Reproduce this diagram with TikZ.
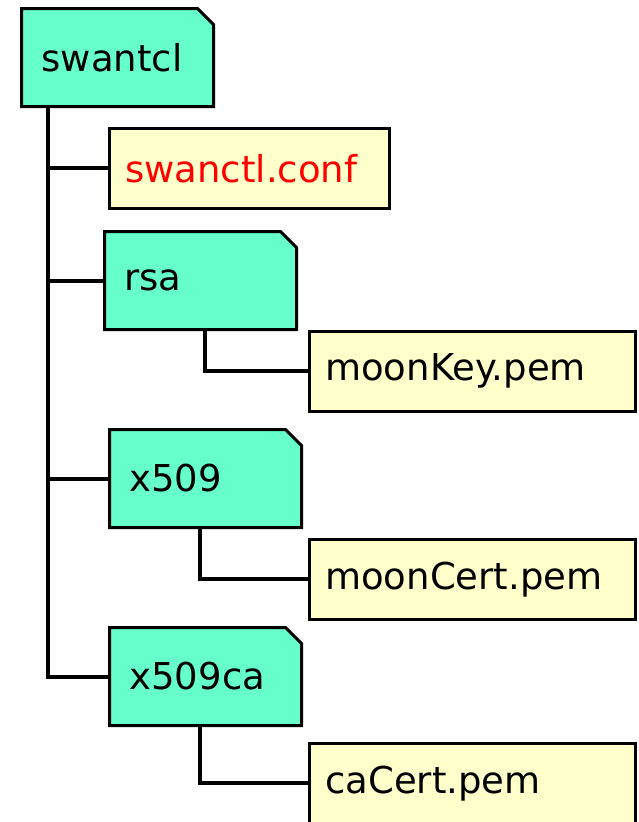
\documentclass[tikz,border=0pt]{standalone}
\usepackage{fontspec}
\setmainfont{DejaVu Sans}
\usetikzlibrary{shapes.misc}

\definecolor{foldergreen}{HTML}{66FFCC}
\definecolor{fileyellow}{HTML}{FFFFCC}

\tikzset{
  folder/.style={chamfered rectangle, chamfered rectangle corners=north east,
    chamfered rectangle xsep=8pt, chamfered rectangle ysep=8pt,
    draw=black, fill=foldergreen, line width=3pt, anchor=north west,
    minimum height=98pt, inner xsep=12pt,
    text width=152pt, align=left, font=\fontsize{37}{42}\selectfont},
  file/.style={rectangle, draw=black, fill=fileyellow, line width=2.5pt,
    anchor=north west, minimum height=80pt, inner xsep=16pt,
    align=left, font=\fontsize{37}{42}\selectfont},
  tree/.style={line width=4pt, line cap=rect},
}

\begin{document}
\begin{tikzpicture}[x=1pt,y=-1pt]
  \useasboundingbox (0,0) rectangle (639,822);

  % directories
  \node[folder] (swanctl) at (20,7) {swantcl};
  \node[folder] (rsa) at (103,230) {rsa};
  \node[folder] (x509) at (108,428) {x509};
  \node[folder] (x509ca) at (108,626) {x509ca};

  % files
  \node[file, minimum width=280pt, text width=248pt, text=red] (conf) at (108,127) {swanctl.conf};
  \node[file, minimum width=326pt, text width=294pt] (key) at (308,330) {moonKey.pem};
  \node[file, minimum width=326pt, text width=294pt] (cert) at (308,538) {moonCert.pem};
  \node[file, minimum width=326pt, text width=294pt] (cacert) at (308,742) {caCert.pem};

  % tree lines
  \coordinate (trunk) at ([xshift=28pt]swanctl.south west);
  \draw[tree] (trunk) |- (x509ca.west);
  \draw[tree] (trunk |- conf.west) -- (conf.west);
  \draw[tree] (trunk |- rsa.west) -- (rsa.west);
  \draw[tree] (trunk |- x509.west) -- (x509.west);

  \draw[tree] ([xshift=102pt]rsa.south west) |- (key.west);
  \draw[tree] ([xshift=92pt]x509.south west) |- (cert.west);
  \draw[tree] ([xshift=92pt]x509ca.south west) |- (cacert.west);
\end{tikzpicture}
\end{document}
